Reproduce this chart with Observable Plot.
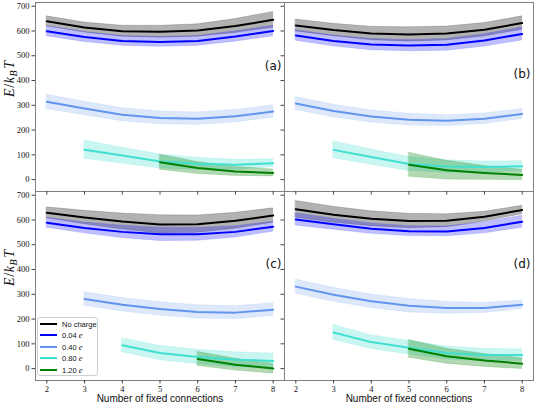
<!DOCTYPE html>
<html><head><meta charset="utf-8">
<script src="https://cdn.jsdelivr.net/npm/d3@7"></script>
<script src="https://cdn.jsdelivr.net/npm/@observablehq/plot@0.6"></script>
<style>
html,body{margin:0;padding:0;background:#fff;}
#wrap{position:relative;width:534px;height:406px;}
#legend{position:absolute;left:37px;top:317px;width:61px;height:59px;border:1px solid #cfcfcf;border-radius:3px;background:rgba(255,255,255,0.85);box-sizing:border-box;font-family:"Liberation Sans",sans-serif;font-size:7.5px;color:#111;}
.li{position:absolute;left:2px;height:11px;display:flex;align-items:center;white-space:nowrap;}
.sw{width:17px;height:2px;margin-right:5px;}
.mi{font-family:"Liberation Serif",serif;font-style:italic;font-size:8.5px;}
</style></head>
<body><div id="wrap"><div id="legend"></div></div>
<script>
const xs = [2, 3, 4, 5, 6, 7, 8];
const seriesNames = ["No charge", "0.04 e", "0.40 e", "0.80 e", "1.20 e"];
const seriesColors = ["#000000", "#0000ff", "#6495ed", "#40e0d0", "#008000"];
const bandOpacity = [0.3, 0.25, 0.22, 0.28, 0.3];
const yTicks = [0, 100, 200, 300, 400, 500, 600, 700];
const xTicks = [2, 3, 4, 5, 6, 7, 8];
const panelLabels = ["(a)", "(b)", "(c)", "(d)"];
const panelLabelY = [458, 425, 423, 423];
const panelCols = ["L", "R", "L", "R"];
const panelRows = ["T", "T", "B", "B"];
const xLabel = "Number of fixed connections";

// panel (a)
const meanA = [
  [639, 614, 599, 597, 602, 620, 645],
  [599, 576, 560, 556, 560, 578, 600],
  [314, 287, 262, 249, 246, 256, 275],
  [null, 121, 97, 73, 64, 60, 66],
  [null, null, null, 70, 47, 33, 27]
];
const sdA = [
  [20, 20, 22, 24, 25, 28, 32],
  [20, 20, 20, 20, 20, 21, 21],
  [29, 27, 26, 26, 25, 25, 25],
  [null, 37, 32, 28, 24, 20, 16],
  [null, null, null, 30, 24, 18, 14]
];
// panel (b)
const meanB = [
  [622, 604, 590, 586, 590, 605, 632],
  [582, 560, 545, 541, 544, 562, 588],
  [307, 277, 255, 242, 238, 246, 265],
  [null, 120, 91, 63, 53, 51, 54],
  [null, null, null, 60, 38, 27, 19]
];
const sdB = [
  [24, 25, 27, 29, 28, 27, 27],
  [21, 22, 23, 23, 24, 25, 26],
  [26, 25, 24, 24, 22, 21, 20],
  [null, 34, 31, 28, 25, 22, 20],
  [null, null, null, 48, 38, 28, 21]
];
// panel (c)
const meanC = [
  [629, 610, 594, 582, 583, 597, 618],
  [589, 568, 552, 542, 542, 552, 573],
  [null, 281, 258, 241, 229, 226, 238],
  [null, null, 94, 63, 47, 36, 31],
  [null, null, null, null, 39, 16, 0]
];
const sdC = [
  [22, 27, 32, 37, 35, 32, 29],
  [20, 22, 25, 27, 26, 23, 20],
  [null, 27, 27, 27, 27, 26, 26],
  [null, null, 28, 29, 29, 30, 30],
  [null, null, null, null, 28, 24, 20]
];
// panel (d)
const meanD = [
  [643, 621, 605, 596, 597, 613, 640],
  [602, 583, 565, 555, 554, 568, 593],
  [331, 298, 272, 254, 245, 245, 258],
  [null, 146, 107, 84, 63, 55, 55],
  [null, null, null, 80, 50, 33, 20]
];
const sdD = [
  [34, 32, 30, 29, 26, 20, 17],
  [24, 22, 21, 20, 20, 22, 24],
  [28, 28, 27, 27, 24, 20, 17],
  [null, 30, 28, 27, 26, 24, 23],
  [null, null, null, 36, 30, 26, 22]
];

const means = [meanA, meanB, meanC, meanD];
const sds = [sdA, sdB, sdC, sdD];
const rows = [];
means.forEach((m, p) => m.forEach((vals, s) => vals.forEach((v, i) => {
  if (v == null) return;
  const e = sds[p][s][i];
  rows.push({fx: panelCols[p], fy: panelRows[p], series: seriesNames[s], x: xs[i], y: v, lo: v - e, hi: v + e});
})));

const serif = "'Liberation Serif', 'DejaVu Serif', serif";
const sans = "'Liberation Sans', 'DejaVu Sans', sans-serif";

const bands = seriesNames.map((name, s) => Plot.areaY(rows.filter(d => d.series === name), {
  x: "x", y1: "lo", y2: "hi", fx: "fx", fy: "fy",
  fill: seriesColors[s], fillOpacity: bandOpacity[s],
  stroke: seriesColors[s], strokeOpacity: bandOpacity[s] * 0.8, strokeWidth: 0.7
}));

const chart = Plot.plot({
  width: 534, height: 406,
  marginLeft: 34, marginRight: 1, marginTop: 1, marginBottom: 26,
  x: {domain: [1.7, 8.3]},
  y: {domain: [-48, 715]},
  fx: {domain: ["L", "R"], padding: 0, axis: null},
  fy: {domain: ["T", "B"], padding: 0, axis: null},
  color: {domain: seriesNames, range: seriesColors},
  style: {background: "white", color: "#111"},
  marks: [
    ...bands,
    Plot.lineY(rows, {x: "x", y: "y", z: "series", stroke: "series", fx: "fx", fy: "fy", strokeWidth: 2}),
    Plot.frame({stroke: "#808080"}),
    Plot.axisY({ticks: yTicks, tickSize: 3.5, fill: "none", stroke: "#444", facetAnchor: null, label: null}),
    Plot.axisY({ticks: yTicks, tickSize: 0, tickPadding: 6, tickFormat: "d", fontSize: 8.5, fontFamily: serif, label: null}),
    Plot.axisX({ticks: xTicks, tickSize: 3.5, fill: "none", stroke: "#444", facetAnchor: null, label: null}),
    Plot.axisX({ticks: xTicks, tickSize: 0, tickPadding: 5, tickFormat: "d", fontSize: 8.5, fontFamily: serif, label: null}),
    Plot.text([0, 1, 2, 3], {
      fx: i => panelCols[i], fy: i => panelRows[i], y: i => panelLabelY[i], text: i => panelLabels[i],
      frameAnchor: "right", dx: -3, textAnchor: "end", fontSize: 12, fontFamily: "'DejaVu Sans', sans-serif"
    }),
    Plot.text([0, 1], {
      fx: i => ["L", "R"][i], fy: () => "B", text: () => xLabel,
      frameAnchor: "bottom", dy: 21, fontSize: 10, fontFamily: sans
    }),
    Plot.text([0, 1], {
      fx: () => "L", fy: i => ["T", "B"][i], text: () => "E/kBT",
      frameAnchor: "left", dx: -26, rotate: -90, fontSize: 14, fontFamily: serif
    })
  ]
});

// typeset the y label  E/k_B T
d3.select(chart).selectAll("text").each(function () {
  if (this.textContent !== "E/kBT") return;
  const t = d3.select(this);
  t.text(null).style("letter-spacing", "0.6px");
  t.append("tspan").attr("font-style", "italic").text("E");
  t.append("tspan").text("/");
  t.append("tspan").attr("font-style", "italic").text("k");
  t.append("tspan").attr("font-style", "italic").attr("font-size", 10).attr("dy", 3).text("B");
  t.append("tspan").attr("font-style", "italic").attr("dy", -3).attr("dx", 1).text("T");
});

const wrap = document.getElementById("wrap");
wrap.insertBefore(chart, wrap.firstChild);

const legend = document.getElementById("legend");
const centers = [7, 18.3, 29.7, 41, 52.5];
seriesNames.forEach((name, s) => {
  const row = document.createElement("div");
  row.className = "li";
  row.style.top = (centers[s] - 5.5 - 1) + "px";
  const sw = document.createElement("span");
  sw.className = "sw";
  sw.style.background = seriesColors[s];
  row.appendChild(sw);
  const lab = document.createElement("span");
  const parts = name.split(" ");
  if (parts.length === 2 && parts[1] === "e") {
    lab.appendChild(document.createTextNode(parts[0] + " "));
    const e = document.createElement("span");
    e.className = "mi";
    e.textContent = "e";
    lab.appendChild(e);
  } else {
    lab.textContent = name;
  }
  row.appendChild(lab);
  legend.appendChild(row);
});
</script>
</body></html>
